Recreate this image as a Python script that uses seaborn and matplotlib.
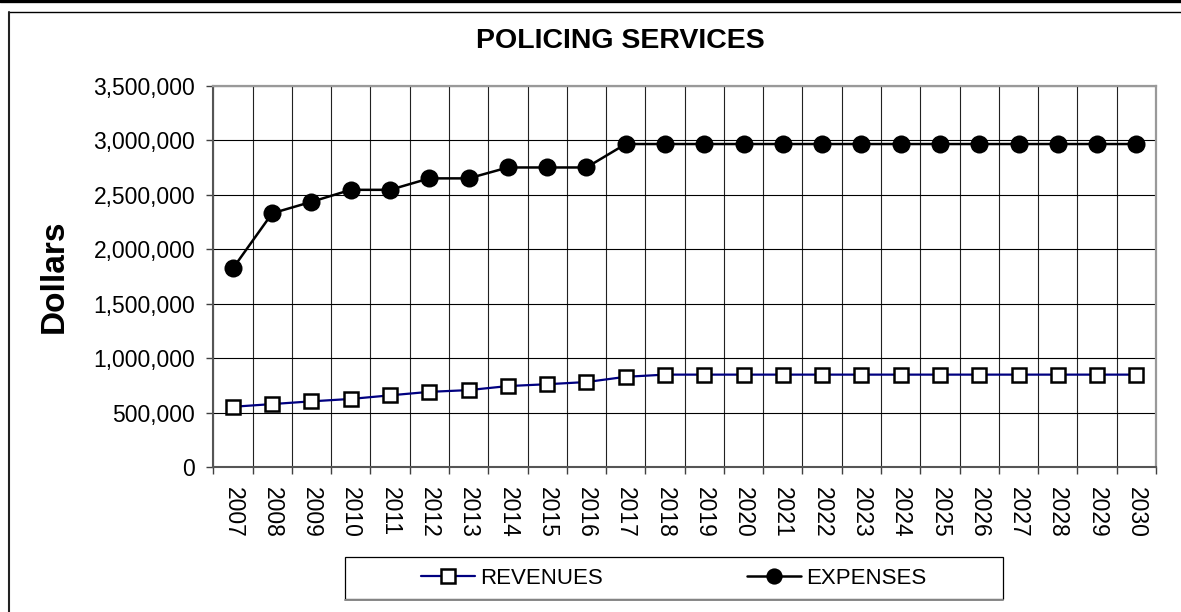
import matplotlib
matplotlib.use("Agg")
import matplotlib.pyplot as plt
import seaborn as sns
import pandas as pd
import numpy as np
from matplotlib.ticker import FuncFormatter, MultipleLocator
from matplotlib.lines import Line2D
from matplotlib.patches import Rectangle

# ---- data ----
years = list(range(2007, 2031))
revenues = [555000, 580000, 605000, 627000, 660000, 692000, 708000, 745000,
            762000, 782000, 830000, 850000, 850000, 850000, 850000, 850000,
            850000, 850000, 850000, 850000, 850000, 850000, 850000, 850000]
expenses = [1825000, 2330000, 2435000, 2545000, 2545000, 2650000, 2650000,
            2750000, 2750000, 2750000, 2965000, 2965000, 2965000, 2965000,
            2965000, 2965000, 2965000, 2965000, 2965000, 2965000, 2965000,
            2965000, 2965000, 2965000]
series_names = ["REVENUES", "EXPENSES"]
title_text = "POLICING SERVICES"
y_label = "Dollars"

sns.set_theme(style="white", rc={"text.color": "black", "axes.labelcolor": "black",
                                 "xtick.color": "black", "ytick.color": "black"})
plt.rcParams["font.family"] = ["Liberation Sans", "DejaVu Sans"]

df = pd.DataFrame({"Year": years, series_names[0]: revenues, series_names[1]: expenses})

W, H = 1181, 612
fig = plt.figure(figsize=(W / 100, H / 100), dpi=100)
ax = fig.add_axes([213.3 / W, 1 - 467.3 / H, (1156 - 213.3) / W, (467.3 - 85.7) / H])

sns.lineplot(data=df, x="Year", y=series_names[0], ax=ax, color="#000080", linewidth=1.6,
             marker="s", markersize=10.5, markerfacecolor="white",
             markeredgecolor="black", markeredgewidth=1.8, label=series_names[0], zorder=3)
sns.lineplot(data=df, x="Year", y=series_names[1], ax=ax, color="black", linewidth=1.8,
             marker="o", markersize=13, markerfacecolor="black",
             markeredgecolor="black", markeredgewidth=0, label=series_names[1], zorder=3)

# axes limits and ticks
ax.set_xlim(years[0] - 0.5, years[-1] + 0.5)
ax.set_ylim(0, 3500000)
ax.yaxis.set_major_locator(MultipleLocator(500000))
ax.yaxis.set_major_formatter(FuncFormatter(lambda v, p: f"{int(v):,}"))
ax.set_xticks(years)
ax.set_xticklabels([str(y) for y in years], rotation=-90)
ax.set_xticks(np.arange(years[0] - 0.5, years[-1] + 1, 1), minor=True)
ax.tick_params(axis="x", which="major", length=0, pad=14, labelsize=16.5, bottom=True)
ax.tick_params(axis="x", which="minor", length=5, width=1, color="#404040", bottom=True)
ax.tick_params(axis="y", which="major", length=5, width=1, color="#404040", pad=8,
               labelsize=16.5, left=True)

ax.grid(False)
ax.grid(axis="y", which="major", color="black", linewidth=0.8)
ax.grid(axis="x", which="minor", color="#222222", linewidth=0.8)
ax.set_axisbelow(True)

for side in ["left", "bottom"]:
    ax.spines[side].set_color("#555555")
    ax.spines[side].set_linewidth(1.5)
for side in ["top", "right"]:
    ax.spines[side].set_color("#999999")
    ax.spines[side].set_linewidth(1.6)

ax.set_xlabel("")
ax.set_ylabel(y_label, fontsize=24, fontweight="bold")
ax.yaxis.set_label_coords(-0.152, 0.5)

fig.text(620 / W, 1 - 41 / H, title_text, ha="center", va="center",
         fontsize=20.5, fontweight="bold")

# legend
handles, labels = ax.get_legend_handles_labels()
if ax.get_legend() is not None:
    ax.get_legend().remove()
fig.legend(handles, labels, loc="center", bbox_to_anchor=(674 / W, 1 - 578 / H),
           ncol=2, frameon=False, fontsize=16, handlelength=2.43,
           handletextpad=0.22, columnspacing=6.5, numpoints=1, markerscale=0.9)
fig.add_artist(Rectangle((345 / W, 1 - 599 / H), 658 / W, 42 / H,
                         transform=fig.transFigure, fill=False,
                         edgecolor="black", linewidth=0.9))
fig.add_artist(Line2D([345 / W, 1003 / W], [1 - 599.5 / H] * 2,
                      transform=fig.transFigure, color="#888888", linewidth=1.4))

# chart frame
fig.add_artist(Line2D([0, 1], [1 - 1 / H] * 2, transform=fig.transFigure,
                      color="black", linewidth=2.4))
fig.add_artist(Line2D([9 / W, 1], [1 - 12 / H] * 2, transform=fig.transFigure,
                      color="black", linewidth=1.0))
fig.add_artist(Line2D([9 / W, 9 / W], [0, 1 - 12 / H], transform=fig.transFigure,
                      color="#222222", linewidth=1.5))

fig.savefig("out.png", dpi=100)
